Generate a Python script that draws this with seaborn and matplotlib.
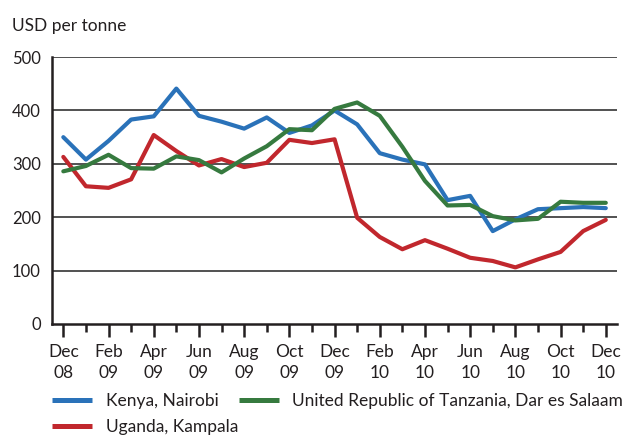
import pandas as pd
import matplotlib.pyplot as plt
import seaborn as sns
from matplotlib.lines import Line2D

# monthly prices, Dec 2008 - Dec 2010 (USD per tonne)
months = ["Dec 08", "Jan 09", "Feb 09", "Mar 09", "Apr 09", "May 09", "Jun 09",
          "Jul 09", "Aug 09", "Sep 09", "Oct 09", "Nov 09", "Dec 09", "Jan 10",
          "Feb 10", "Mar 10", "Apr 10", "May 10", "Jun 10", "Jul 10", "Aug 10",
          "Sep 10", "Oct 10", "Nov 10", "Dec 10"]
kenya = [350, 308, 343, 383, 389, 441, 390, 379, 366, 387, 358, 372, 400,
         374, 320, 308, 299, 232, 240, 174, 196, 215, 217, 219, 217]
uganda = [313, 258, 255, 271, 354, 324, 297, 309, 294, 302, 345, 339, 346,
          199, 163, 140, 157, 141, 124, 118, 106, 121, 135, 174, 195]
tanzania = [286, 296, 317, 292, 291, 314, 307, 284, 310, 333, 365, 363, 403,
            415, 390, 332, 268, 222, 223, 202, 194, 197, 229, 227, 227]
tick_labels = ["Dec\n08", "Feb\n09", "Apr\n09", "Jun\n09", "Aug\n09", "Oct\n09",
               "Dec\n09", "Feb\n10", "Apr\n10", "Jun\n10", "Aug\n10", "Oct\n10",
               "Dec\n10"]

series = {
    "Kenya, Nairobi": kenya,
    "Uganda, Kampala": uganda,
    "United Republic of Tanzania, Dar es Salaam": tanzania,
}
colors = {
    "Kenya, Nairobi": "#2a72b9",
    "Uganda, Kampala": "#c1272d",
    "United Republic of Tanzania, Dar es Salaam": "#367a3f",
}

rows = []
for name, vals in series.items():
    for i, v in enumerate(vals):
        rows.append({"idx": i, "month": months[i], "market": name, "price": v})
df = pd.DataFrame(rows)

sns.set_style("white")
plt.rcParams["font.family"] = ["Lato", "DejaVu Sans"]
text_col = "#231f20"

fig = plt.figure(figsize=(6.23, 4.36), dpi=100)
ax = fig.add_axes([0.0835, 0.257, 0.907, 0.612])

for y in range(100, 501, 100):
    ax.axhline(y, color="#333333", lw=1.2, zorder=1)

sns.lineplot(data=df, x="idx", y="price", hue="market", palette=colors,
             linewidth=3.0, ax=ax, legend=False, zorder=3)

ax.set_xlim(-0.5, 24.5)
ax.set_ylim(0, 500)
ax.set_xticks(range(0, 25, 2))
ax.set_xticklabels(tick_labels, fontsize=12.5, color=text_col, linespacing=1.4)
ax.set_xticks(range(1, 24, 2), minor=True)
ax.set_yticks(range(0, 501, 100))
ax.set_yticklabels([str(v) for v in range(0, 501, 100)], fontsize=12, color=text_col)
ax.tick_params(axis="x", which="major", direction="out", length=9.5, width=1.8,
               color=text_col, pad=5, bottom=True)
ax.tick_params(axis="x", which="minor", direction="out", length=6, width=1.8,
               color=text_col, bottom=True)
ax.tick_params(axis="y", length=0, pad=8)
ax.set_xlabel("")
ax.set_ylabel("")

for side in ["top", "right"]:
    ax.spines[side].set_visible(False)
for side in ["left", "bottom"]:
    ax.spines[side].set_color(text_col)
    ax.spines[side].set_linewidth(1.8)

fig.text(0.019, 0.94, "USD per tonne", fontsize=12.5, color=text_col, va="center", ha="left")

def handle(name):
    return Line2D([], [], color=colors[name], lw=3.6, solid_capstyle="butt")

fig.legend([handle("Kenya, Nairobi"), handle("Uganda, Kampala")],
           ["Kenya, Nairobi", "Uganda, Kampala"],
           loc="upper left", bbox_to_anchor=(0.083, 0.098), frameon=False,
           fontsize=12.5, handlelength=2.3, handletextpad=0.8,
           borderpad=0, borderaxespad=0, labelspacing=0.55, labelcolor=text_col)
fig.legend([handle("United Republic of Tanzania, Dar es Salaam")],
           ["United Republic of Tanzania, Dar es Salaam"],
           loc="upper left", bbox_to_anchor=(0.383, 0.098), frameon=False,
           fontsize=12.5, handlelength=2.3, handletextpad=0.8,
           borderpad=0, borderaxespad=0, labelcolor=text_col)

fig.savefig("out.png", dpi=100)
